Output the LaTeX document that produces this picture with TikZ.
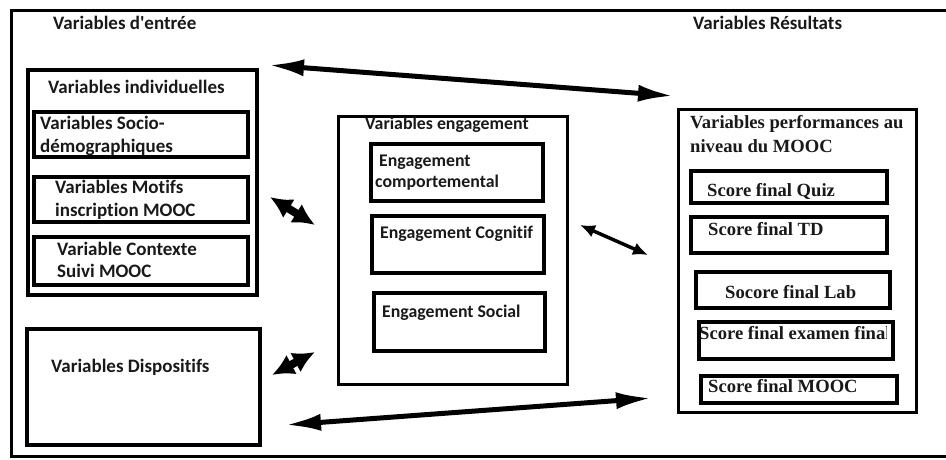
\documentclass[tikz,border=0pt]{standalone}
\usepackage{fontspec}
\usetikzlibrary{arrows.meta}
\newfontfamily\calib[Ligatures=NoCommon]{Carlito}
\newfontfamily\timesf{Liberation Serif}
\def\ltxt{\calib\bfseries\fontsize{19}{22.5}\selectfont}
\def\mtxt{\calib\bfseries\fontsize{17.8}{21}\selectfont}
\def\rtxt{\timesf\bfseries\fontsize{18.6}{24.5}\selectfont}
\tikzset{
  box/.style={draw=black, line width=3.5pt, inner sep=0pt, anchor=north west},
  lt/.style={font=\ltxt, inner sep=0pt, anchor=west, align=left, text=black!90},
  mt/.style={lt, font=\mtxt},
  rt/.style={font=\rtxt, inner sep=0pt, anchor=west, align=left, text=black!90},
  bigarrow/.style={line width=5pt, {Latex[length=36pt,width=17pt]}-{Latex[length=36pt,width=17pt]}},
  fatarrow/.style={line width=8pt, {Latex[length=22pt,width=22pt]}-{Latex[length=22pt,width=22pt]}},
  thinarrow/.style={line width=3.5pt, {Latex[length=15pt,width=13pt]}-{Latex[length=15pt,width=13pt]}},
}
\begin{document}
\begin{tikzpicture}[x=1pt, y=-1pt]
  \useasboundingbox (0,0) rectangle (946,459);
  % outer frame, open on the right
  \draw[line width=3pt] (946,10) -- (11,10) -- (11,456) -- (946,456);

  \node[lt] (inTitle) at (53,23) {Variables d'entr\'ee};
  \node[lt] (resTitle) at (693,23) {Variables R\'esultats};

  % input variables
  \node[box, minimum width=229, minimum height=225] (indiv) at (26,68) {};
  \node[lt] (indivT) at (48,87) {Variables individuelles};
  \node[box, minimum width=214, minimum height=45] (socio) at (32,110) {};
  \node[lt] (socioT) at (40,136) {Variables Socio-\\d\'emographiques};
  \node[box, minimum width=214, minimum height=45] (motif) at (32,175) {};
  \node[lt] (motifT) at (55,200) {Variables Motifs\\inscription MOOC};
  \node[box, minimum width=214, minimum height=48] (ctx) at (32,235) {};
  \node[lt] (ctxT) at (57,260) {Variable Contexte\\Suivi MOOC};
  \node[box, minimum width=233, minimum height=116] (disp) at (25,327) {};
  \node[lt] (dispT) at (51,367) {Variables Dispositifs};

  % engagement
  \node[box, line width=3pt, minimum width=229, minimum height=268] (eng) at (337,115) {};
  \node[mt] (engT) at (365,125) {Variables engagement};
  \node[box, minimum width=172, minimum height=57] (comp) at (369,142) {};
  \node[mt] (compT) at (375,173) {\ Engagement\\comportemental};
  \node[box, minimum width=172, minimum height=57] (cogn) at (370,214) {};
  \node[mt] (cognT) at (380,234) {Engagement Cognitif};
  \node[box, minimum width=171, minimum height=58] (soc) at (372,291) {};
  \node[mt] (socT) at (382,313) {Engagement Social};

  % results
  \node[box, line width=3pt, minimum width=238, minimum height=303] (perf) at (677,108) {};
  \node[rt] (perfT) at (690,134) {Variables performances au\\niveau du MOOC};
  \node[box, minimum width=196, minimum height=32] (quiz) at (689,169) {};
  \node[rt] (quizT) at (707,191) {Score final Quiz};
  \node[box, minimum width=196, minimum height=36] (td) at (689,215) {};
  \node[rt] (tdT) at (708,229) {Score final TD};
  \node[box, minimum width=194, minimum height=36] (lab) at (694,270) {};
  \node[rt] (labT) at (725,292) {Socore final Lab};
  \begin{scope}
    \clip (697,320) rectangle (886,357);
    \node[rt] (examT) at (699,333) {Score final examen final};
  \end{scope}
  \node[box, minimum width=194, minimum height=37] (exam) at (697,320) {};
  \node[box, minimum width=196, minimum height=27] (mooc) at (699,374) {};
  \node[rt] (moocT) at (708,386) {Score final MOOC};

  % arrow ends
  \coordinate (inTop) at (268,65);
  \coordinate (resTop) at (674,96);
  \coordinate (indivE) at (270,197);
  \coordinate (engW) at (315,225);
  \coordinate (dispE) at (272,375);
  \coordinate (engSW) at (315,352);
  \coordinate (engE) at (580,225);
  \coordinate (perfW) at (648,255);
  \coordinate (dispBot) at (285,425);
  \coordinate (resBot) at (652,398);

  \draw[bigarrow] (inTop) -- (resTop);
  \draw[fatarrow] (indivE) -- (engW);
  \draw[fatarrow] (dispE) -- (engSW);
  \draw[thinarrow] (engE) -- (perfW);
  \draw[bigarrow] (dispBot) -- (resBot);
\end{tikzpicture}
\end{document}
